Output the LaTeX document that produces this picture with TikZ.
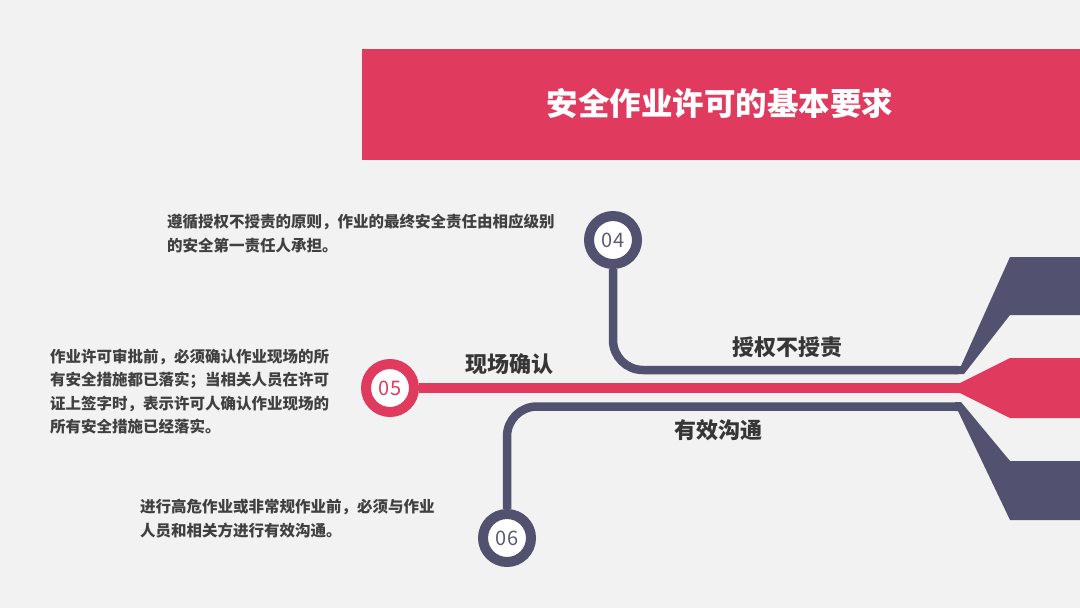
\documentclass[tikz,border=0pt]{standalone}
\usepackage{fontspec}
\newfontfamily\cjk{Noto Sans CJK SC}
\usetikzlibrary{positioning}
\definecolor{bg}{RGB}{242,242,242}
\definecolor{rosered}{RGB}{224,58,94}
\definecolor{slate}{RGB}{82,82,112}
\definecolor{ink}{RGB}{64,64,64}

\begin{document}
\begin{tikzpicture}[x=1pt, y=-1pt,
    ring/.style={circle, draw=#1, line width=10pt, fill=white, minimum size=48pt, inner sep=0pt,
      font=\cjk\fontsize{20}{20}\selectfont},
    track/.style={line width=#1, line cap=butt},
    label/.style={font=\cjk\bfseries\fontsize{22}{22}\selectfont, text=ink!85!black},
    note/.style={anchor=west, align=left, inner sep=0pt, text=ink,
      font=\cjk\bfseries\fontsize{15.5}{23.5}\selectfont}]
    % background and title bar
    \fill[bg] (0,0) rectangle (1080,608);
    \fill[rosered] (362,49) rectangle (1080,160);
    \node[text=white, font=\cjk\bfseries\fontsize{31.5}{31.5}\selectfont] (title) at (720,104) {安全作业许可的基本要求};

    % fan on the right
    \fill[slate] (955,366) -- (961,366) -- (1010,257) -- (1080,257) -- (1080,315) -- (1010,315) -- (964,374) -- (955,374) -- cycle;
    \fill[rosered] (955,383) -- (960,383) -- (1010,358) -- (1080,358) -- (1080,418) -- (1010,418) -- (960,393) -- (955,393) -- cycle;
    \fill[slate] (955,402) -- (961,402) -- (1010,461) -- (1080,461) -- (1080,520) -- (1010,520) -- (958,411) -- (955,411) -- cycle;

    % ends of the three tracks
    \coordinate (end04) at (958,370);
    \coordinate (end05) at (958,388);
    \coordinate (end06) at (958,406.5);

    % step circles
    \node[ring=slate, text=slate!80!gray]   (c04) at (613,240) {04};
    \node[ring=rosered, text=rosered]       (c05) at (390,388) {05};
    \node[ring=slate, text=slate!80!gray]   (c06) at (507,538) {06};

    % tracks
    \draw[track=8.5pt, slate, rounded corners=30pt] (c04.south) |- (end04);
    \draw[track=10pt, rosered] (c05.east) -- (end05);
    \draw[track=8.5pt, slate, rounded corners=30pt] (c06.north) |- (end06);

    % track labels
    \node[label] (lab04) at (787,347) {授权不授责};
    \node[label] (lab05) at (509,364) {现场确认};
    \node[label] (lab06) at (718,430) {有效沟通};

    % notes
    \node[note] (note04) at (167,233.5) {遵循授权不授责的原则，作业的最终安全责任由相应级别\\的安全第一责任人承担。};
    \node[note] (note05) at (50,391.5) {作业许可审批前，必须确认作业现场的所\\有安全措施都已落实；当相关人员在许可\\证上签字时，表示许可人确认作业现场的\\所有安全措施已经落实。};
    \node[note] (note06) at (140,518.5) {进行高危作业或非常规作业前，必须与作业\\人员和相关方进行有效沟通。};
\end{tikzpicture}
\end{document}
